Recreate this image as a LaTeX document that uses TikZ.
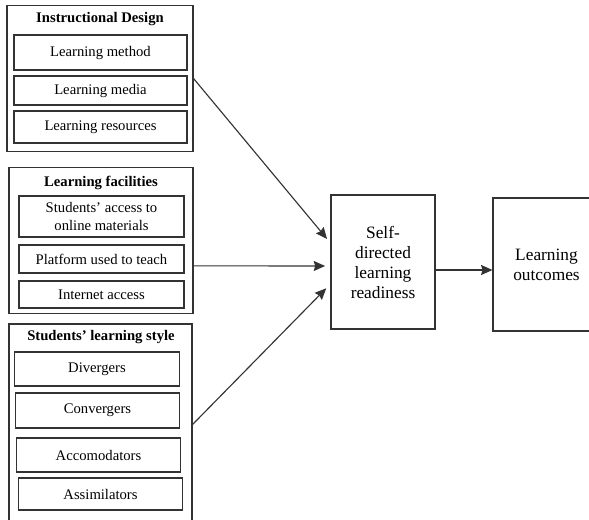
\documentclass[tikz,border=0pt]{standalone}
\usepackage{fontspec}
\setmainfont{Liberation Serif}
\usepackage{tikz}
\usetikzlibrary{arrows.meta,positioning,calc}

\begin{document}
\begin{tikzpicture}[x=0.75pt,y=-0.75pt,>={Stealth[length=8.5pt,width=7.5pt,inset=1pt]},
    line width=0.85pt,draw=black!80,
    grp/.style={draw,inner sep=0pt},
    item/.style={draw,inner sep=0pt,align=center,font=\fontsize{11}{13}\selectfont},
    head/.style={font=\fontsize{11}{13}\selectfont\bfseries},
    mainbox/.style={draw,inner sep=0pt,align=center,font=\fontsize{13}{15}\selectfont}]
    \useasboundingbox (0,0) rectangle (589,519);
    % instructional design
    \node[grp,minimum width=139.5pt,minimum height=110pt] (grpA) at (100,78.5) {};
    \node[head] (headA) at (100,19) {Instructional Design};
    \foreach \y/\h/\t [count=\i] in {52.5/26.25/Learning method,90.5/21.75/Learning media,127/24/Learning resources} {
      \node[item,minimum width=129.75pt,minimum height=\h pt] (itemA\i) at (100.5,\y) {\t};
    }
    % learning facilities
    \node[grp,minimum width=138pt,minimum height=110pt] (grpB) at (101,240.5) {};
    \node[head] (headB) at (101,183) {Learning facilities};
    \foreach \y/\h/\t [count=\i] in {216.5/30.75/{Students' access to\\online materials},259/21/Platform used to teach,294.5/20.25/Internet access} {
      \node[item,minimum width=123.75pt,minimum height=\h pt] (itemB\i) at (101.5,\y) {\t};
    }
    % learning style
    \node[grp,minimum width=137.25pt,minimum height=150.75pt] (grpC) at (100.5,424.5) {};
    \node[head] (headC) at (101,337) {Students' learning style};
    \foreach \x/\y/\h/\t [count=\i] in {97/369/25.5/Divergers,97.5/410.5/26.25/Convergers,98.5/455/25.5/Accomodators,100.5/494/24/Assimilators} {
      \node[item,minimum width=123.5pt,minimum height=\h pt] (itemC\i) at (\x,\y) {\t};
    }
    % readiness and outcomes
    \node[mainbox,minimum width=78pt,minimum height=100.5pt] (ready) at (383,262) {Self-\\directed\\learning\\readiness};
    \node[mainbox,minimum width=80.25pt,minimum height=99.75pt,text width=70pt] (outcome) at (546.5,264.5) {Learning\\outcomes};
    \draw[->,shorten >=4pt] (grpA.east) -- ([yshift=14.25pt]ready.west);
    \draw[->,shorten >=4pt] ([yshift=-19pt]grpB.east) -- ([yshift=-3pt]ready.west);
    \draw[->,shorten >=4.5pt] (grpC.east) -- ([yshift=-16.5pt]ready.west);
    \draw[->] ([yshift=-6pt]ready.east) -- ([yshift=-6pt]ready.east -| outcome.west);
\end{tikzpicture}
\end{document}
